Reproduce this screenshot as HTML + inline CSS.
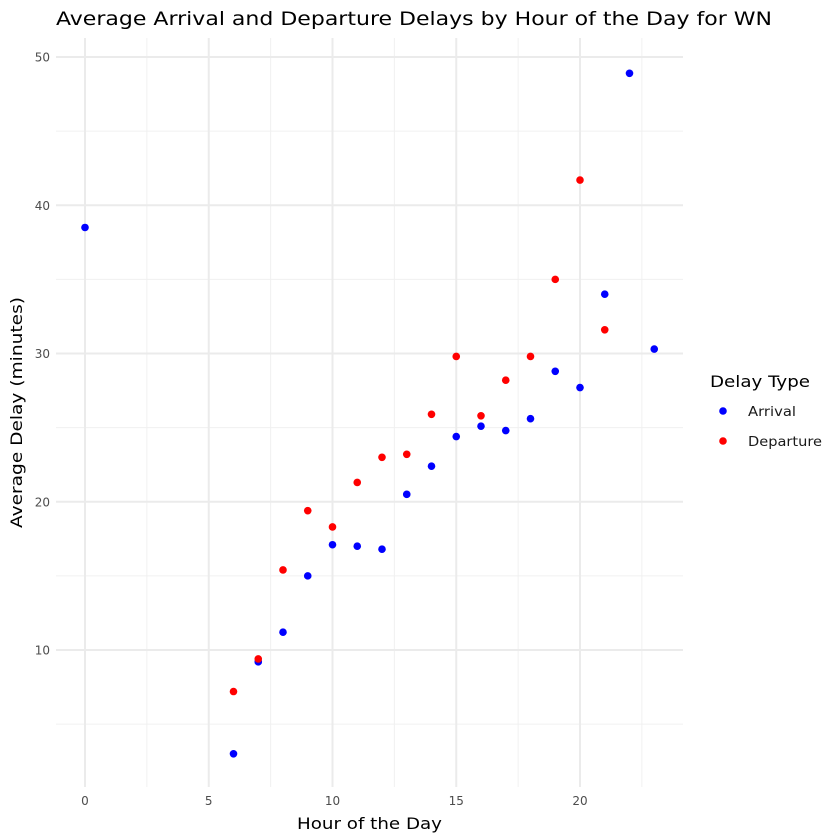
<!DOCTYPE html>
<html><head><meta charset="utf-8"><style>
body{margin:0;background:#fff;}
svg{font-family:"DejaVu Sans","Liberation Sans",sans-serif;display:block}
</style></head><body>
<svg id="chart" width="840" height="840" viewBox="0 0 840 840" xmlns="http://www.w3.org/2000/svg">
<rect width="840" height="840" fill="#fff"/>
<g id="grid"></g><g id="ticks"></g><g id="points"></g>
<text x="56" y="25" font-size="19" textLength="716" lengthAdjust="spacingAndGlyphs" fill="#000">Average Arrival and Departure Delays by Hour of the Day for WN</text>
<text x="297" y="829" font-size="16" textLength="145" lengthAdjust="spacingAndGlyphs" fill="#000">Hour of the Day</text>
<text transform="translate(22,528) rotate(-90)" font-size="16" textLength="231" lengthAdjust="spacingAndGlyphs" fill="#000">Average Delay (minutes)</text>
<g>
<text x="710" y="387" font-size="16" textLength="100" lengthAdjust="spacingAndGlyphs" fill="#000">Delay Type</text>
<circle cx="723" cy="411" r="3.8" fill="#0000ff"/>
<text x="748" y="416" font-size="13" textLength="48" lengthAdjust="spacingAndGlyphs" fill="#1a1a1a">Arrival</text>
<circle cx="723" cy="441" r="3.8" fill="#ff0000"/>
<text x="748" y="446" font-size="13" textLength="74" lengthAdjust="spacingAndGlyphs" fill="#1a1a1a">Departure</text>
</g>
</svg>
<script>
const arrHours=[0,6,7,8,9,10,11,12,13,14,15,16,17,18,19,20,21,22,23];
const arrDelay=[38.5,3.0,9.2,11.2,15.0,17.1,17.0,16.8,20.5,22.4,24.4,25.1,24.8,25.6,28.8,27.7,34.0,48.9,30.3];
const depHours=[6,7,8,9,10,11,12,13,14,15,16,17,18,19,20,21];
const depDelay=[7.2,9.4,15.4,19.4,18.3,21.3,23.0,23.2,25.9,29.8,25.8,28.2,29.8,35.0,41.7,31.6];
const xTicks=[0,5,10,15,20];
const yTicks=[10,20,30,40,50];
const xMinor=[2.5,7.5,12.5,17.5,22.5];
const yMinor=[5,15,25,35,45];
const L=56,R=683,T=38,B=787;
const xs=v=>85+v*24.75;
const ys=v=>57+(50-v)*14.825;
const NS="http://www.w3.org/2000/svg";
function mk(parent,tag,attrs){const e=document.createElementNS(NS,tag);for(const k in attrs)e.setAttribute(k,attrs[k]);parent.appendChild(e);return e;}
const g=document.getElementById('grid'),tk=document.getElementById('ticks'),pt=document.getElementById('points');
xMinor.forEach(v=>{const e=mk(g,'line',{x1:xs(v),x2:xs(v),y1:T,y2:B,stroke:'#f0f0f0','stroke-width':1});

});
yMinor.forEach(v=>{const e=mk(g,'line',{x1:L,x2:R,y1:ys(v),y2:ys(v),stroke:'#f0f0f0','stroke-width':1});

});
xTicks.forEach(v=>{const e=mk(g,'line',{x1:xs(v),x2:xs(v),y1:T,y2:B,stroke:'#ebebeb','stroke-width':2});


const t=mk(tk,'text',{x:xs(v),y:805,'font-size':12,fill:'#4d4d4d','text-anchor':'middle'});t.textContent=v;

});
yTicks.forEach(v=>{const e=mk(g,'line',{x1:L,x2:R,y1:ys(v),y2:ys(v),stroke:'#ebebeb','stroke-width':2});


const t=mk(tk,'text',{x:50,y:ys(v)+4.5,'font-size':12,fill:'#4d4d4d','text-anchor':'end'});t.textContent=v;

});
arrHours.forEach((h,i)=>{const c=mk(pt,'circle',{cx:xs(h),cy:ys(arrDelay[i]),r:3.8,fill:'#0000ff'});

});
depHours.forEach((h,i)=>{const c=mk(pt,'circle',{cx:xs(h),cy:ys(depDelay[i]),r:3.8,fill:'#ff0000'});

});
</script>
</body></html>
